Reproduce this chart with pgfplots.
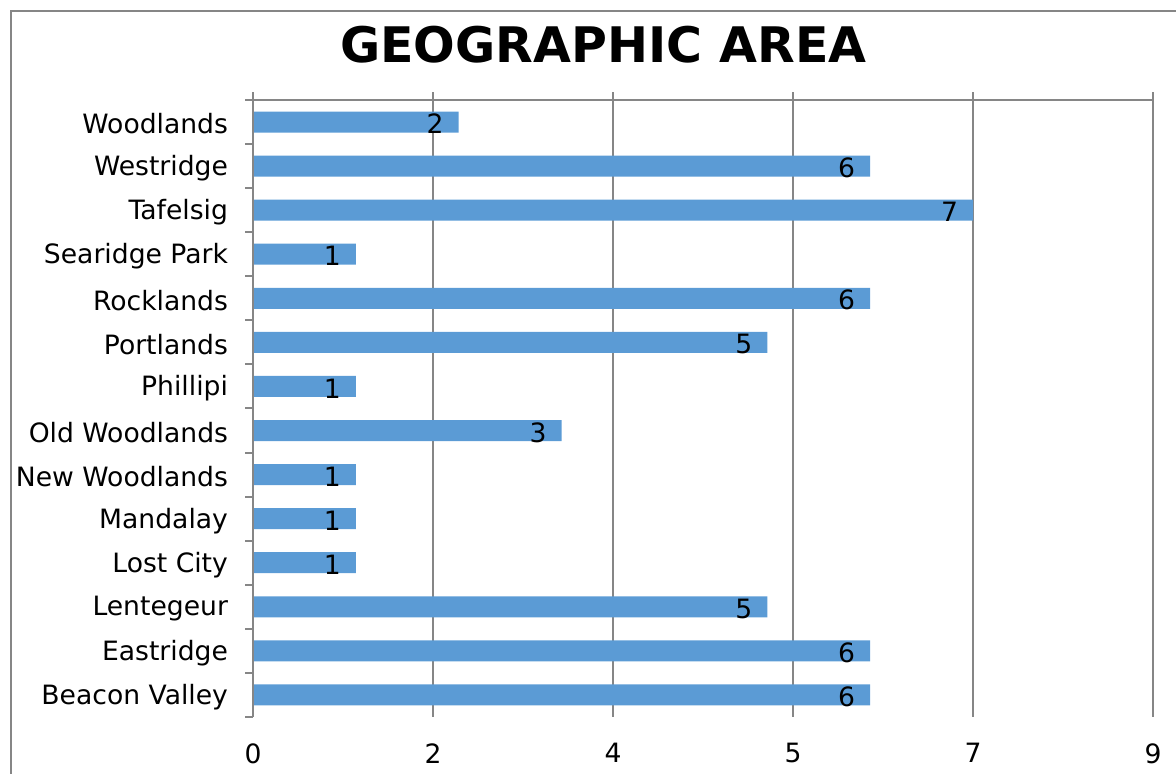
\documentclass[border=0pt]{standalone}
\usepackage{pgfplots}
\pgfplotsset{compat=1.18}
\usepackage{fontspec}
\setmainfont{DejaVu Sans}
\definecolor{barblue}{HTML}{5B9BD5}
\definecolor{gridgray}{HTML}{868686}
\begin{document}
\begin{tikzpicture}
\useasboundingbox (0pt,0pt) rectangle (588pt,387pt);
\draw[gridgray, line width=1pt] (5.5pt,0pt) -- (5.5pt,381.5pt) -- (588pt,381.5pt);
\node[font=\fontsize{24.5}{28}\selectfont\bfseries] at (301.75pt,364.5pt) {GEOGRAPHIC AREA};
\begin{axis}[
  at={(126.5pt,28.5pt)}, anchor=south west,
  scale only axis, width=450pt, height=308.5pt,
  xbar, bar width=10.5pt,
  xmin=0, xmax=8.75, ymin=-0.5, ymax=13.5,
  xtick={0,1.75,3.5,5.25,7,8.75},
  xticklabels={0,2,4,5,7,9},
  ytick={-0.5,0.5,...,13.5},
  yticklabels={},
  extra y ticks={0,...,13},
  extra y tick labels={Beacon Valley,Eastridge,Lentegeur,Lost City,Mandalay,New Woodlands,Old Woodlands,Phillipi,Portlands,Rocklands,Searidge Park,Tafelsig,Westridge,Woodlands},
  extra y tick style={major tick length=0pt, tick style={draw=none}, yticklabel style={xshift=-9pt, yshift=-1pt}},
  xtick pos=upper, xticklabel pos=lower,
  ytick pos=left,
  tick align=outside,
  major tick length=3.75pt,
  every tick/.style={gridgray, line width=1pt},
  axis line style={draw=none},
  xmajorgrids, major grid style={gridgray, line width=1pt},
  tick label style={font=\fontsize{13.3}{15}\selectfont},
  /pgf/number format/assume math mode=true,
  xticklabel style={yshift=-6pt},
  nodes near coords,
  every node near coord/.append style={anchor=east, xshift=-4pt, yshift=-1pt, font=\fontsize{13.3}{15}\selectfont, black},
  clip=false,
]
\addplot[fill=barblue, draw=none] coordinates {
(6,0) (6,1) (5,2) (1,3) (1,4) (1,5) (3,6) (1,7) (5,8) (6,9) (1,10) (7,11) (6,12) (2,13)
};
\draw[gridgray, line width=1pt] (rel axis cs:0,1) -- (rel axis cs:1,1);
\draw[gridgray, line width=1pt] (rel axis cs:0,0) -- ([yshift=3.5pt]rel axis cs:0,1);
\end{axis}
\end{tikzpicture}
\end{document}
